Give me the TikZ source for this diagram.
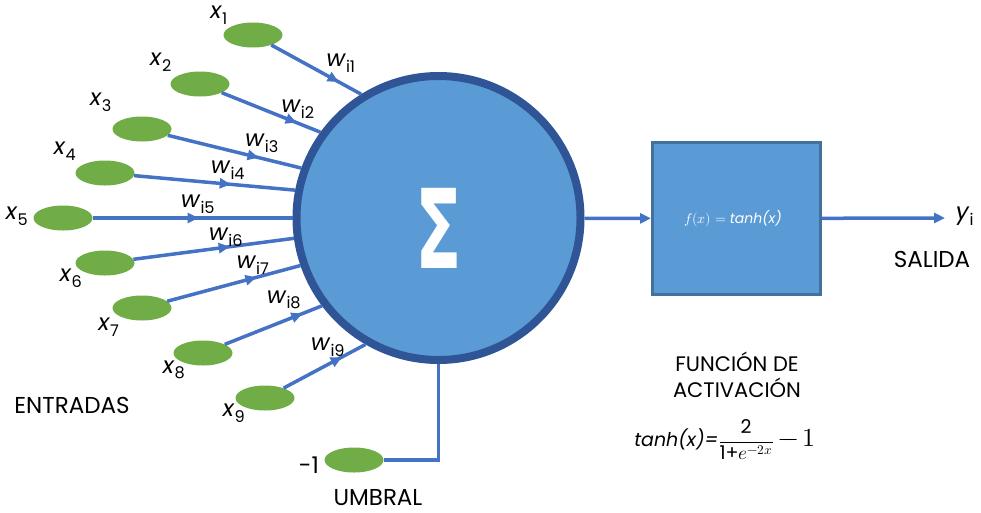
\documentclass[tikz,border=0pt]{standalone}
\usepackage{fontspec}
\usepackage{unicode-math}
\setmainfont{Poppins}
\setmathfont{Latin Modern Math}
\newfontfamily\simbolo{DejaVu Sans}
\usetikzlibrary{shapes.geometric,arrows.meta,decorations.markings}

\definecolor{verde}{HTML}{70AD47}
\definecolor{azul}{HTML}{4472C4}
\definecolor{relleno}{HTML}{5B9BD5}
\definecolor{borde}{HTML}{2F5597}
\definecolor{bordecaja}{HTML}{41719C}

\tikzset{
  entrada/.style={ellipse, fill=verde, minimum width=59pt, minimum height=25pt, inner sep=0pt},
  linea/.style={azul, line width=3.5pt},
  peso/.style={linea, postaction={decorate},
    decoration={markings, mark=at position #1 with {\arrow{Triangle[length=11pt,width=10pt]}}}},
  flecha/.style={linea, -{Triangle[length=11pt,width=10pt]}},
  etiqueta/.style={font=\fontsize{23}{23}\selectfont, inner sep=0pt},
}

\begin{document}
\begin{tikzpicture}[x=1pt, y=-1pt]
	\useasboundingbox (0,0) rectangle (981,512);

	% Draw neuron and activation box
	\node[circle, draw=borde, fill=relleno, line width=8pt, minimum size=284pt, inner sep=0pt] (suma) at (438.5,218) {};
	\node[text=white] at (439,228) {\simbolo\bfseries\fontsize{110}{110}\selectfont\scalebox{0.62}[1]{Σ}};
	\node[draw=bordecaja, fill=relleno, line width=3pt, minimum width=168pt, minimum height=152pt] (activ) at (736.5,218.5) {};
	\node[text=white, font=\fontsize{14}{14}\selectfont] at (733,219) {$f(x) = $ \textit{tanh(x)}};

	% Draw inputs
	\node[entrada] (x1) at (253,35) {};
	\node[entrada] (x2) at (200,84) {};
	\node[entrada] (x3) at (142,129) {};
	\node[entrada] (x4) at (105,173) {};
	\node[entrada] (x5) at (63,218) {};
	\node[entrada] (x6) at (105,263) {};
	\node[entrada] (x7) at (142,308) {};
	\node[entrada] (x8) at (203,353) {};
	\node[entrada] (x9) at (265,398) {};
	\node[entrada] (umbral) at (354,460) {};

	\node[etiqueta] (lx1) at (219,15) {\textit{x}\textsubscript{1}};
	\node[etiqueta] (lx2) at (161,62) {\textit{x}\textsubscript{2}};
	\node[etiqueta] (lx3) at (101,102) {\textit{x}\textsubscript{3}};
	\node[etiqueta] (lx4) at (65,151) {\textit{x}\textsubscript{4}};
	\node[etiqueta] (lx5) at (17,216) {\textit{x}\textsubscript{5}};
	\node[etiqueta] (lx6) at (71,278) {\textit{x}\textsubscript{6}};
	\node[etiqueta] (lx7) at (109,327) {\textit{x}\textsubscript{7}};
	\node[etiqueta] (lx8) at (174,370) {\textit{x}\textsubscript{8}};
	\node[etiqueta] (lx9) at (234,413) {\textit{x}\textsubscript{9}};
	\node[etiqueta] (lumbral) at (309,465) {-1};

	% Draw weighted connections
	\draw[peso=0.75] (x1) -- (suma.122.3);
	\draw[peso=0.76] (x2) -- (suma.144.5);
	\draw[peso=0.68] (x3) -- (suma.160.2);
	\draw[peso=0.6] (x4) -- (suma.169.3);
	\draw[peso=0.53] (x5) -- (suma.180);
	\draw[peso=0.6] (x6) -- (suma.188.8);
	\draw[peso=0.67] (x7) -- (suma.199.9);
	\draw[peso=0.8] (x8) -- (suma.217.1);
	\draw[peso=0.71] (x9) -- (suma.240.9);
	\draw[linea] (umbral) -| (suma.south);

	\node[etiqueta] (w1) at (341,63) {\textit{w}\textsubscript{i1}};
	\node[etiqueta] (w2) at (298,109) {\textit{w}\textsubscript{i2}};
	\node[etiqueta] (w3) at (262,143) {\textit{w}\textsubscript{i3}};
	\node[etiqueta] (w4) at (228,170) {\textit{w}\textsubscript{i4}};
	\node[etiqueta] (w5) at (198,204) {\textit{w}\textsubscript{i5}};
	\node[etiqueta] (w6) at (226,237) {\textit{w}\textsubscript{i6}};
	\node[etiqueta] (w7) at (253,265) {\textit{w}\textsubscript{i7}};
	\node[etiqueta] (w8) at (284,300) {\textit{w}\textsubscript{i8}};
	\node[etiqueta] (w9) at (328,347) {\textit{w}\textsubscript{i9}};

	% Draw output
	\coordinate (fin) at (945,218);
	\draw[flecha] (suma) -- (activ);
	\draw[flecha] (activ) -- (fin);
	\node[etiqueta] (yi) at (965,216) {\textit{y}\textsubscript{i}};

	% Captions
	\node[etiqueta] (entradas) at (72,405) {ENTRADAS};
	\node[etiqueta, anchor=base] (umbraltxt) at (378,505) {UMBRAL};
	\node[etiqueta] (salida) at (932,259) {SALIDA};
	\node[etiqueta, font=\fontsize{21}{21}\selectfont, align=center] (funcion) at (737,375) {FUNCIÓN DE\\[5pt]ACTIVACIÓN};
	\node[etiqueta, font=\fontsize{19}{19}\selectfont] (formula) at (725,440) {\textit{tanh(x)=}$\displaystyle\frac{\mbox{2}}{\mbox{1+}e^{-2x}}${\fontsize{26}{26}\selectfont$\,-\,1$}};
\end{tikzpicture}
\end{document}
